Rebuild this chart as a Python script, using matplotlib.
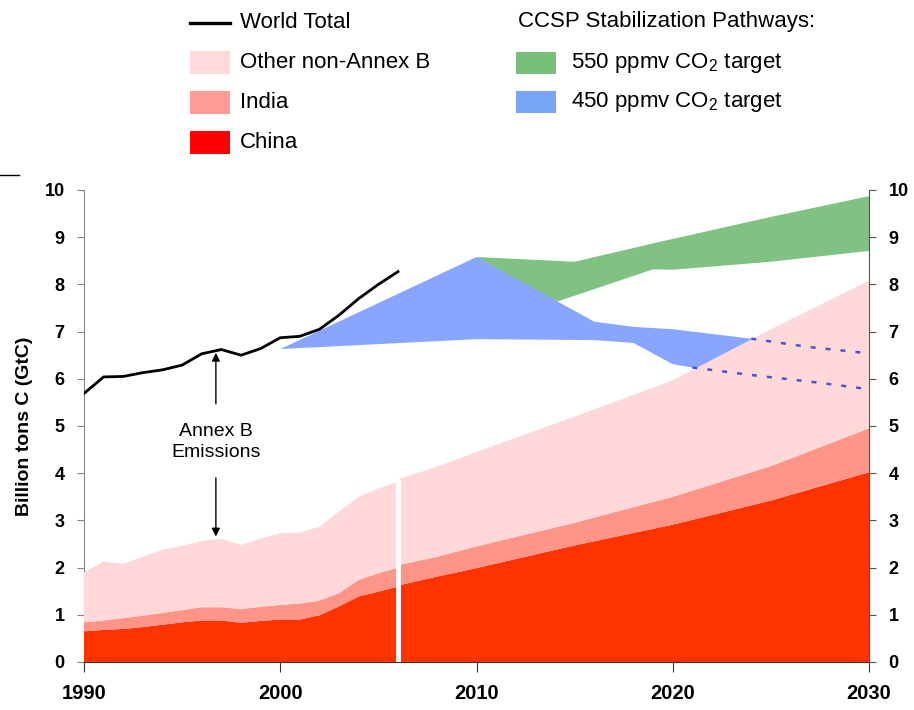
import numpy as np
import matplotlib.pyplot as plt
from matplotlib.patches import Rectangle
from matplotlib.lines import Line2D

plt.rcParams['font.family'] = ['Liberation Sans', 'DejaVu Sans']
plt.rcParams['mathtext.fontset'] = 'custom'
plt.rcParams['mathtext.rm'] = 'Liberation Sans'

# historical emissions (GtC)
hist_years = np.arange(1990, 2007)
world_total = [5.69, 6.04, 6.05, 6.13, 6.19, 6.29, 6.53, 6.62, 6.50, 6.64,
               6.87, 6.90, 7.05, 7.35, 7.70, 8.00, 8.27]
china_hist = [0.65, 0.68, 0.70, 0.74, 0.79, 0.84, 0.88, 0.88, 0.83, 0.87,
              0.90, 0.90, 0.99, 1.18, 1.39, 1.49, 1.60]
india_hist = [0.19, 0.20, 0.23, 0.24, 0.25, 0.26, 0.28, 0.28, 0.29, 0.30,
              0.31, 0.34, 0.31, 0.28, 0.35, 0.39, 0.40]
other_hist = [1.06, 1.25, 1.15, 1.25, 1.34, 1.36, 1.41, 1.45, 1.36, 1.45,
              1.52, 1.50, 1.57, 1.73, 1.76, 1.80, 1.82]

# projections
proj_years = [2006, 2008, 2010, 2015, 2020, 2025, 2030]
china_proj = [1.62, 1.81, 1.99, 2.47, 2.91, 3.42, 4.02]
india_proj = [0.43, 0.42, 0.46, 0.48, 0.59, 0.73, 0.93]
other_proj = [1.82, 1.91, 2.00, 2.25, 2.47, 2.90, 3.13]

# CCSP stabilization pathways, upper and lower edges
p550_upper_years = [2010, 2015, 2019, 2025, 2030]
p550_upper = [8.58, 8.48, 8.87, 9.43, 9.87]
p550_lower_years = [2010, 2014, 2019, 2020, 2025, 2030]
p550_lower = [8.58, 7.62, 8.32, 8.31, 8.48, 8.71]

p450_upper_years = [2000, 2010, 2016, 2018, 2020, 2024, 2027, 2030]
p450_upper = [6.63, 8.58, 7.21, 7.10, 7.05, 6.85, 6.67, 6.54]
p450_lower_years = [2000, 2010, 2016, 2018, 2020, 2021, 2024, 2027, 2030]
p450_lower = [6.63, 6.84, 6.82, 6.76, 6.31, 6.24, 6.08, 5.94, 5.78]
# 450 edges are dotted once they pass under the non-Annex B area
p450_upper_hidden = 2024
p450_lower_hidden = 2021

c_china, c_india, c_other = '#ff3300', '#ff9488', '#ffd9d9'
c_550, c_450 = '#80c283', '#88a6ff'

W, H = 914, 710
fig = plt.figure(figsize=(W / 100, H / 100), dpi=100)
ax = fig.add_axes([84 / W, 48 / H, 785 / W, 472 / H])

# pathway bands
ax.fill(np.concatenate([p550_upper_years, p550_lower_years[::-1]]),
        np.concatenate([p550_upper, p550_lower[::-1]]),
        color=c_550, lw=0, zorder=1)
ax.fill(np.concatenate([p450_upper_years, p450_lower_years[::-1]]),
        np.concatenate([p450_upper, p450_lower[::-1]]),
        color=c_450, lw=0, zorder=2)

# stacked non-Annex B emissions
colors = [c_china, c_india, c_other]
ax.stackplot(hist_years, china_hist, india_hist, other_hist,
             colors=colors, lw=0, zorder=3)
ax.stackplot(proj_years, china_proj, india_proj, other_proj,
             colors=colors, lw=0, zorder=3)
gap_top = max(china_hist[-1] + india_hist[-1] + other_hist[-1],
              china_proj[0] + india_proj[0] + other_proj[0])
ax.vlines(2006, 0, gap_top, colors='white', lw=3.5, zorder=4)

# dotted continuation of the 450 ppmv band
uy = np.array(p450_upper_years)
ly = np.array(p450_lower_years)
ax.plot(uy[uy >= p450_upper_hidden], np.array(p450_upper)[uy >= p450_upper_hidden],
        color='#4a55c8', lw=1.8, ls=(0, (2, 4)), zorder=5)
ax.plot(ly[ly >= p450_lower_hidden], np.array(p450_lower)[ly >= p450_lower_hidden],
        color='#4a55c8', lw=1.8, ls=(0, (2, 4)), zorder=5)

ax.plot(hist_years, world_total, color='black', lw=2, zorder=6)

# Annex B bracket
ax.text(1996.72, 4.66, 'Annex B\nEmissions', ha='center', va='center',
        fontsize=14, linespacing=1.3, zorder=7)
ax.annotate('', xy=(1996.72, 6.61), xytext=(1996.72, 5.41),
            arrowprops=dict(arrowstyle='-|>', color='black', lw=1,
                            mutation_scale=12), zorder=7)
ax.annotate('', xy=(1996.72, 2.60), xytext=(1996.72, 3.96),
            arrowprops=dict(arrowstyle='-|>', color='black', lw=1,
                            mutation_scale=12), zorder=7)

ax.set_xlim(1990, 2030)
ax.set_ylim(0, 10)
ax.set_xticks([1990, 2000, 2010, 2020, 2030])
ax.set_yticks(range(0, 11))
ax.spines['top'].set_visible(False)
ax.spines['right'].set_visible(False)
ax.spines['left'].set_color('#888888')
ax.spines['bottom'].set_color('#333333')
ax.tick_params(axis='y', direction='out', length=5, color='#888888', pad=9,
               labelsize=13)
ax.tick_params(axis='x', direction='out', length=7, color='#333333', pad=9,
               labelsize=14.5)
for lab in ax.get_xticklabels() + ax.get_yticklabels():
    lab.set_fontweight('bold')
ax.set_ylabel('Billion tons C (GtC)', fontsize=14, fontweight='bold', labelpad=8)

ax2 = ax.twinx()
ax2.set_ylim(0, 10)
ax2.set_yticks(range(0, 11))
for s in ['top', 'left', 'bottom']:
    ax2.spines[s].set_visible(False)
ax2.spines['right'].set_color('#555555')
ax2.tick_params(axis='y', direction='out', length=5, color='#555555', pad=9,
                labelsize=13)
for lab in ax2.get_yticklabels():
    lab.set_fontweight('bold')

# legend block across the top
def fy(y):
    return 1 - y / H

fig.add_artist(Line2D([0, 19 / W], [fy(175), fy(175)], color='black', lw=1))
fig.add_artist(Line2D([190 / W, 230 / W], [fy(23), fy(23)], color='black', lw=2.4))
fig.text(240 / W, fy(22), 'World Total', va='center', fontsize=16)

left_items = [('Other non-Annex B', '#ffdada', 62),
              ('India', '#ff9a94', 102),
              ('China', '#ff0000', 142)]
for label, col, yc in left_items:
    fig.add_artist(Rectangle((190 / W, fy(yc + 11.5)), 40 / W, 23 / H,
                             transform=fig.transFigure, color=col, lw=0))
    fig.text(240 / W, fy(yc), label, va='center', fontsize=16)

fig.text(518 / W, fy(22), 'CCSP Stabilization Pathways:', va='center', fontsize=16)
right_items = [('550 ppmv CO$_2$ target', '#79be7b', 63),
               ('450 ppmv CO$_2$ target', '#79a5f7', 102)]
for label, col, yc in right_items:
    fig.add_artist(Rectangle((516 / W, fy(yc + 11)), 40 / W, 22 / H,
                             transform=fig.transFigure, color=col, lw=0))
    fig.text(571 / W, fy(yc), label, va='center', fontsize=16)

fig.savefig('out.png', dpi=100)
